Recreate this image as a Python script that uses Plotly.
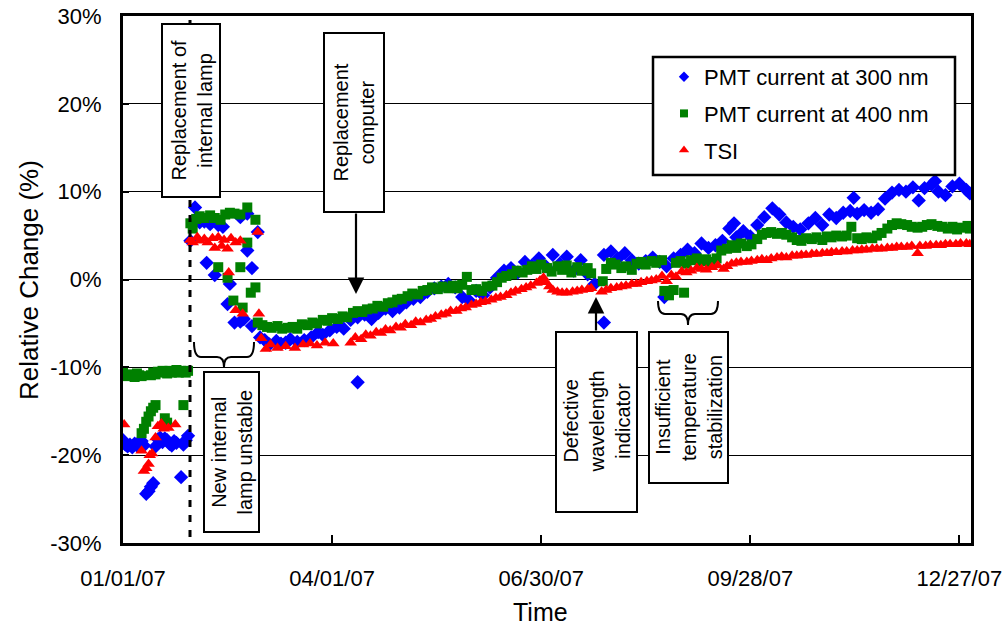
import plotly.graph_objects as go
import pandas as pd

# ---------------- data (day offset from 2007-01-01, relative change in %) ----------------
blue_days = [0, 1, 2, 3, 4, 5, 6, 7, 8, 9, 10, 11, 12, 13, 14, 15, 16, 17, 18, 19, 20, 21, 22, 23, 25, 26, 27, 28,
             29, 31, 33, 35, 36, 37.5, 39.5, 41, 43, 45, 46, 48, 50.5, 50.5, 52, 53.5, 53.5, 55.5, 55.5, 58,
             59, 61, 63, 66, 68, 70, 72, 75, 78, 81, 84, 86, 89, 92, 95, 98, 101, 101, 104, 107, 110, 113, 116,
             119, 122, 125, 128, 131, 134, 137, 140, 143, 146, 149, 152, 155, 158, 161, 164, 167, 170, 173, 176,
             179, 182, 185, 188, 191, 194, 197, 200, 203, 207, 207, 210, 213, 216, 219, 222, 225, 228, 231, 233,
             234, 237, 240, 243, 246, 249, 252, 255, 258, 261, 263, 264, 267, 270, 273, 276, 279.5, 282.5, 285.5,
             288.5, 291.5, 295, 298, 301, 304, 307, 310, 313, 314.5, 316, 319, 322, 325, 328, 331, 334, 337, 340,
             342.5, 345, 348, 349.5, 351, 354, 357, 360, 363, 364.5]
blue_vals = [-18.3, -18.8, -19.0, -18.8, -19.1, -18.7, -18.9, -18.5, -18.4, -18.9, -24.4, -24.1, -23.6, -23.2, -19.0,
             -18.2, -18.0, -18.5, -18.1, -18.3, -18.7, -18.9, -18.4, -18.6, -22.5, -18.8, -18.3, -17.8,
             4.4, 8.2, 6.5, 6.6, 1.9, 6.3, 0.5, 6.2, 6.0, -2.8, -0.5, -4.9, 7.1, -4.8, -4.5, 3.3, 7.5, 1.3, -5.3, 5.4,
             -6.6, -6.9, -7.4, -7.0, -7.3, -7.2, -6.8, -7.1, -6.9, -6.6, -6.0, -6.3, -5.8, -5.4, -5.6, -4.6, -11.7,
             -4.3, -4.0, -4.5, -3.8, -3.3, -3.6, -3.2, -2.6, -2.2, -2.0, -1.4, -1.0, -0.8, -0.5, -0.9, -2.0, -2.4,
             -1.3, -1.8, -0.9, 0.2, 1.0, 1.3, 0.8, 2.0, 1.6, 2.4, 1.5, 2.8, 1.8, 2.6, 1.0, 2.2, 0.6, -0.5, -4.9, 2.8,
             3.2, 2.4, 3.0, 2.2, 1.8, 2.1, 2.5, 2.0, -2.0, 1.5, 2.4, 2.8, 3.4, 3.0, 4.1, 3.6, 3.9, 4.4, 5.8, 6.4, 4.8,
             5.5, 4.9, 6.2, 7.1, 8.1, 7.4, 6.5, 6.0, 5.7, 6.4, 7.0, 6.2, 7.4, 7.0, 7.6, 7.8, 9.3, 7.5, 7.9, 7.6, 8.0,
             9.2, 9.9, 10.2, 10.0, 10.5, 9.0, 10.4, 10.8, 11.2, 10.0, 9.6, 10.6, 10.9, 10.2, 9.8]

green_days = [0, 1, 2, 3, 4, 5, 6, 7, 8, 12, 13, 14, 15, 16, 17, 18, 19, 20, 21, 22, 23, 24, 25, 26, 27, 28,
              8, 9, 10, 11, 12, 13, 14, 18, 19, 26,
              29, 30, 31.5, 33, 35, 37.5, 39.5, 41, 42, 44, 45, 46, 47.5, 48, 50.5, 50.5, 51.5, 53.5, 53.5, 55,
              57, 57, 58, 60, 62, 64, 66.5, 68.5, 71, 73, 75, 77, 79.5, 81.5, 83.5, 86, 88, 90, 92.5, 94.5, 96.5,
              99, 101, 103, 105, 107.5, 109.5, 112, 114, 116, 118, 120, 122.5, 124.5, 127, 129, 131, 133, 135.5,
              137.5, 140, 142, 144, 146, 148, 150, 152, 154.5, 156.5, 159, 161, 163, 165, 167.5, 169.5, 172, 174,
              176, 178, 180, 182.5, 184.5, 187, 189, 191, 193, 195.5, 197.5, 200, 201.5, 206.5, 208, 210, 212,
              214.5, 216.5, 219, 221, 223, 225, 227.5, 229.5, 232, 233, 235, 237, 238, 240, 241.5, 242.5, 244.5,
              247, 249, 251, 253, 255.5, 257.5, 260, 262, 264, 266, 268.5, 270.5, 273, 275, 277, 279, 281.5,
              283.5, 285.5, 288, 290, 292, 294, 296.5, 298.5, 301, 303, 305, 307, 309.5, 311.5, 313.5, 316, 318,
              320, 322.5, 324.5, 326.5, 329, 331, 333, 335, 337.5, 339.5, 342, 344, 346, 348, 350.5, 352.5, 355,
              357, 359, 361, 363.5, 364.5]
green_vals = [-10.6, -10.9, -11.0, -10.8, -10.9, -11.1, -10.7, -10.9, -11.0, -10.9, -10.6, -10.8, -10.5, -10.6,
              -10.4, -10.5, -10.7, -10.4, -10.6, -10.5, -10.3, -10.6, -10.4, -10.5, -10.6, -10.4,
              -17.5, -17.0, -16.2, -15.6, -15.0, -14.6, -14.3, -15.8, -16.3, -14.3,
              6.4, 5.8, 6.9, 7.2, 7.0, 7.3, 7.0, 1.4, 6.8, 7.4, 0.2, 7.6, -2.4, 7.5, 1.4, 7.4, -3.2, 4.2, 8.2, -1.5,
              6.8, -0.9, -4.9, -5.2, -5.4, -5.5, -5.3, -5.6, -5.5, -5.4, -5.6, -5.1, -5.2, -4.9, -5.0, -4.6, -4.7,
              -4.4, -4.5, -4.2, -4.3, -3.8, -3.6, -3.7, -3.4, -3.3, -3.0, -3.1, -2.7, -2.6, -2.3, -2.2, -1.9, -1.6,
              -1.7, -1.3, -1.2, -0.9, -1.1, -0.8, -1.0, -0.7, -1.0, -0.6, 0.3, -1.2, -1.1, -1.3, -0.8, -0.7, -0.3,
              0.2, 0.4, 0.6, 1.0, 0.8, 1.1, 1.5, 1.2, 1.7, 1.3, 0.9, 1.5, 1.1, 1.6, 0.8, 1.4, 1.0, 1.3, 0.7, -0.2,
              1.2, 1.9, 1.7, 1.3, 1.5, 1.1, 1.8, 2.0, 1.7, 2.1, 1.9, 2.2, -1.3, -1.8, -1.2, 1.9, 2.1, -1.5, 1.8,
              2.2, 2.4, 2.1, 2.3, 2.0, 2.4, 3.3, 3.5, 3.9, 3.6, 4.1, 3.8, 4.0, 4.6, 5.1, 5.3, 5.4, 5.2, 5.3, 5.1,
              4.8, 4.5, 4.4, 4.7, 4.6, 4.8, 4.5, 4.9, 4.8, 5.0, 4.9, 5.0, 6.0, 4.7, 4.6, 4.8, 4.7, 5.0, 5.3, 5.8,
              6.2, 6.4, 6.3, 6.2, 6.0, 5.9, 6.0, 6.2, 6.3, 6.1, 6.0, 5.8, 6.0, 5.7, 5.9, 6.1, 5.8]

red_days = [0.5, 8, 9, 10, 11, 11.5, 12.5, 14, 15, 16.5, 17.5, 19.5, 22.5,
            29, 30, 32, 33, 35, 36.5, 38.5, 39.5, 41, 42.5, 43.5, 45, 45.5, 46.5, 48.5, 48.5, 50.5, 51.5, 58,
            58.5, 59.5, 61.5, 63.5, 66.5, 70, 74, 77.5, 80.5, 83.5, 87, 90.5,
            98, 100, 102.5, 104.5, 106.5, 109, 111, 113, 115, 117.5, 119.5, 121.5, 124, 126, 128, 130.5, 132.5,
            134.5, 137, 139, 141, 143.5, 145.5, 147.5, 150, 152, 154, 156, 158.5, 160.5, 162.5, 165, 167,
            169, 171.5, 173.5, 175.5, 178, 179.5, 181, 182, 183.5, 185, 187, 189, 191, 193.5, 195.5, 197.5, 200,
            201.5, 206, 208, 210, 212.5, 214.5, 216.5, 219, 221, 223, 225.5, 227.5, 229.5, 232, 234, 236, 238,
            240.5, 242.5, 244.5, 247, 249, 251, 253.5, 256, 258.5, 260, 262, 264, 266, 268.5, 270.5, 273, 275,
            277, 279, 281.5, 283.5, 285.5, 288, 290, 292, 294, 296.5, 298.5, 301, 303, 305, 307, 309.5, 311.5,
            314, 316, 318, 320, 322.5, 324.5, 326.5, 329, 331, 333, 335, 337.5, 339.5, 342, 343, 345.5, 347.5,
            350, 352, 354, 356, 358.5, 360.5, 363, 364.5]
red_vals = [-16.5, -19.5, -21.8, -21.5, -21.0, -20.0, -19.8, -18.0, -16.7, -16.4, -17.0, -16.9, -16.5,
            4.5, 4.2, 4.8, 4.4, 4.6, 4.2, 4.7, 3.6, 4.8, 3.8, 4.5, 3.5, 0.8, 4.7, 4.2, -3.5, 4.4, -3.9, 5.4,
            -3.9, -6.7, -7.9, -7.4, -7.8, -7.6, -7.8, -7.4, -7.3, -7.5, -7.2, -7.3,
            -7.2, -6.6, -6.8, -6.3, -6.4, -6.0, -6.1, -5.7, -5.8, -5.4, -5.5, -5.1, -5.2, -4.8, -4.9, -4.6, -4.5,
            -4.2, -4.0, -3.9, -3.6, -3.6, -3.3, -3.2, -2.9, -2.8, -2.6, -2.5, -2.3, -2.1, -2.0, -1.8, -1.5,
            -1.3, -1.1, -0.9, -0.7, -0.4, -0.1, 0.2, -0.3, -0.8, -1.2, -1.4, -1.5, -1.5, -1.4, -1.3, -1.2, -1.1,
            -1.0, -1.4, -1.2, -1.0, -0.9, -0.8, -0.7, -0.5, -0.5, -0.3, -0.2, -0.1, 0.0, 0.4, -0.2, 0.5, 0.3,
            0.9, 0.8, 1.0, 1.3, 1.2, 1.1, 1.4, 1.6, 1.2, 1.5, 1.8, 1.9, 2.0, 2.0, 2.1, 2.2, 2.3,
            2.2, 2.4, 2.5, 2.6, 2.5, 2.7, 2.7, 2.8, 2.8, 2.9, 2.9, 3.0, 3.0, 3.1, 3.1, 3.2, 3.2,
            3.3, 3.3, 3.4, 3.4, 3.5, 3.5, 3.5, 3.6, 3.6, 3.7, 3.7, 3.7, 3.8, 3.0, 3.8, 3.8, 3.9,
            3.9, 3.9, 4.0, 4.0, 4.0, 4.1, 4.1, 4.0]

series_names = ["PMT current at 300 nm", "PMT current at 400 nm", "TSI"]
tick_dates = ["2007-01-01", "2007-04-01", "2007-06-30", "2007-09-28", "2007-12-27"]
tick_labels = ["01/01/07", "04/01/07", "06/30/07", "09/28/07", "12/27/07"]
y_ticks = [-30, -20, -10, 0, 10, 20, 30]
y_tick_labels = ["-30%", "-20%", "-10%", "0%", "10%", "20%", "30%"]

start = pd.Timestamp("2007-01-01")


def to_dates(days):
    return [start + pd.Timedelta(days=d) for d in days]


# ---------------- layout geometry helpers (pixel -> paper) ----------------
W, H = 1005, 631
L, R, T, B = 123, 971, 16, 543


def px(x):
    return (x - L) / (R - L)


def py(y):
    return (B - y) / (B - T)


FONT = "Liberation Sans, Arial, sans-serif"

styles = [dict(symbol="diamond", color="#0000FF"), dict(symbol="square", color="#008000"),
          dict(symbol="triangle-up", color="#FF0000")]
plot_sizes = [11, 10, 11]
legend_sizes = [8, 8, 9]
series = [(blue_days, blue_vals), (green_days, green_vals), (red_days, red_vals)]

fig = go.Figure()
for i, (d, v) in enumerate(series):
    fig.add_trace(go.Scatter(x=to_dates(d), y=v, mode="markers", name=series_names[i], showlegend=False,
                             marker=dict(size=plot_sizes[i], **styles[i])))
# legend entries (small markers as in the original legend)
for i in range(3):
    fig.add_trace(go.Scatter(x=[None], y=[None], mode="markers", name=series_names[i], legendgroup=f"g{i}",
                             marker=dict(size=legend_sizes[i], **styles[i])))

shapes = []
# dashed line: replacement of internal lamp
shapes.append(dict(type="line", xref="paper", yref="paper", x0=px(190), x1=px(190), y0=py(20), y1=0,
                   line=dict(color="black", width=3, dash="7px,8px"), layer="above"))

boxes = [
    (162, 220, 24, 197, "Replacement of<br>internal lamp"),
    (324, 384, 33, 212, "Replacement<br>computer"),
    (204, 259, 372, 532, "New internal<br>lamp unstable"),
    (556, 637, 332, 512, "Defective<br>wavelength<br>indicator"),
    (649, 728, 332, 483, "Insufficient<br>temperature<br>stabilization"),
]
annotations = []
for x0, x1, y0, y1, txt in boxes:
    shapes.append(dict(type="rect", xref="paper", yref="paper", x0=px(x0), x1=px(x1), y0=py(y1), y1=py(y0),
                       line=dict(color="black", width=2), fillcolor="white", layer="above"))
    annotations.append(dict(xref="paper", yref="paper", x=px((x0 + x1) / 2), y=py((y0 + y1) / 2), text=txt,
                            textangle=-90, showarrow=False, font=dict(family=FONT, size=20, color="black"),
                            xanchor="center", yanchor="middle"))


def brace(x0, x1, ytop, ymid, ytip, r=7):
    xc = (x0 + x1) / 2
    pts = [("M", x0, ytop), ("Q", x0, ymid), ("", x0 + r, ymid), ("L", xc - r, ymid), ("Q", xc, ymid),
           ("", xc, ytip), ("Q", xc, ymid), ("", xc + r, ymid), ("L", x1 - r, ymid), ("Q", x1, ymid),
           ("", x1, ytop)]
    s = ""
    for cmd, x, y in pts:
        s += f"{cmd}{px(x):.5f},{py(y):.5f} "
    return s.strip()


shapes.append(dict(type="path", xref="paper", yref="paper", path=brace(194, 254, 342, 357, 367),
                   line=dict(color="black", width=2), layer="above"))
shapes.append(dict(type="path", xref="paper", yref="paper", path=brace(658, 718, 301, 314, 325),
                   line=dict(color="black", width=2), layer="above"))

# legend frame
shapes.append(dict(type="rect", xref="paper", yref="paper", x0=px(653), x1=px(955), y0=py(175), y1=py(57),
                   line=dict(color="black", width=2.5), fillcolor="white", layer="above"))

# arrows
annotations.append(dict(xref="paper", yref="paper", x=px(356), y=py(294), ax=0, ay=212 - 294, text="",
                        showarrow=True, arrowhead=2, arrowsize=1.5, arrowwidth=2.2, arrowcolor="black"))
annotations.append(dict(xref="paper", yref="paper", x=px(596), y=py(297), ax=0, ay=332 - 297, text="",
                        showarrow=True, arrowhead=2, arrowsize=1.5, arrowwidth=2.2, arrowcolor="black"))

# axis titles
annotations.append(dict(xref="paper", yref="paper", x=px(29), y=py(280), text="Relative Change (%)",
                        textangle=-90, showarrow=False, xanchor="center", yanchor="middle",
                        font=dict(family=FONT, size=26, color="black")))
annotations.append(dict(xref="paper", yref="paper", x=px(540), y=py(612), text="Time",
                        showarrow=False, xanchor="center", yanchor="middle",
                        font=dict(family=FONT, size=25, color="black")))

fig.update_layout(
    width=W, height=H,
    margin=dict(l=L, r=W - R, t=T, b=H - B),
    paper_bgcolor="white", plot_bgcolor="white",
    font=dict(family=FONT, color="black"),
    shapes=shapes, annotations=annotations,
    showlegend=True,
    legend=dict(x=px(664), y=py(56), xanchor="left", yanchor="top", bgcolor="rgba(0,0,0,0)",
                borderwidth=0, font=dict(family=FONT, size=22, color="black"),
                traceorder="grouped", tracegroupgap=5, itemsizing="trace"),
    xaxis=dict(type="date", range=["2007-01-01", "2008-01-01"], tickvals=tick_dates, ticktext=tick_labels,
               ticks="inside", ticklen=8, tickwidth=2, tickcolor="black", showgrid=False, automargin=False,
               showline=True, linewidth=3, linecolor="black", mirror=True, zeroline=False,
               tickfont=dict(family=FONT, size=22, color="black"), ticklabelstandoff=14),
    yaxis=dict(range=[-30, 30], tickvals=y_ticks, ticktext=y_tick_labels, ticks="inside", ticklen=6,
               tickwidth=2, tickcolor="black", showgrid=True, gridcolor="black", gridwidth=1, automargin=False,
               showline=True, linewidth=3, linecolor="black", mirror=True, zeroline=False,
               tickfont=dict(family=FONT, size=22, color="black"), ticklabelstandoff=14),
)

fig.write_html("out.html")
